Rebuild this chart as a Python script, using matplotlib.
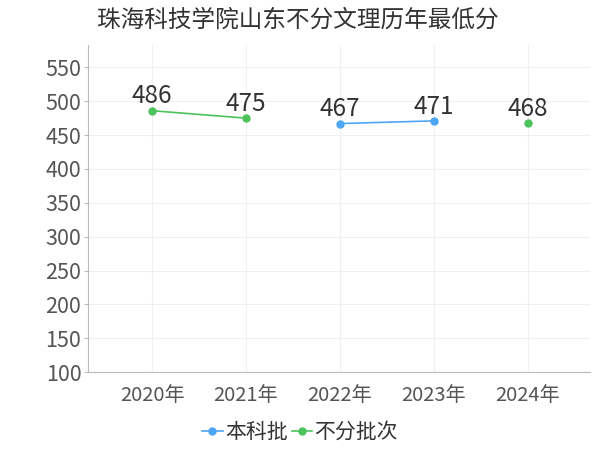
import matplotlib
matplotlib.use('Agg')
import matplotlib.pyplot as plt
import numpy as np

plt.rcParams['font.family'] = ['Noto Sans CJK SC', 'DejaVu Sans']

title = '珠海科技学院山东不分文理历年最低分'
years = ['2020年', '2021年', '2022年', '2023年', '2024年']
benke = [np.nan, np.nan, 467, 471, np.nan]      # 本科批
bufen = [486, 475, np.nan, np.nan, 468]         # 不分批次
yticks = [100, 150, 200, 250, 300, 350, 400, 450, 500, 550]

blue = '#4da6f5'
green = '#4cc25b'

fig = plt.figure(figsize=(6, 4.5), dpi=100)
ax = fig.add_axes([0.147, 0.173, 0.836, 0.727])

x = np.arange(len(years))
ax.plot(x, benke, color=blue, lw=1.2, marker='o', ms=5, label='本科批', zorder=3)
ax.plot(x, bufen, color=green, lw=1.2, marker='o', ms=5, label='不分批次', zorder=3)

for xs, ys in [(x, benke), (x, bufen)]:
    for xi, yi in zip(xs, ys):
        if not np.isnan(yi):
            ax.text(xi, yi + 2, str(int(yi)), ha='center', va='bottom',
                    fontsize=17.5, color='#333333')

ax.set_xlim(-0.68, 4.66)
ax.set_ylim(100, 583)
ax.set_xticks(x)
ax.set_xticklabels(years)
ax.set_yticks(yticks)
ax.tick_params(axis='x', labelsize=14.5, colors='#555555', length=0, pad=9)
ax.tick_params(axis='y', labelsize=15.5, colors='#555555', length=3, color='#bbbbbb', pad=2)
ax.grid(True, color='#f0f0f0', lw=0.8)
ax.set_axisbelow(True)
for s in ['top', 'right']:
    ax.spines[s].set_visible(False)
for s in ['left', 'bottom']:
    ax.spines[s].set_color('#bbbbbb')

fig.text(0.162, 0.955, title, fontsize=17, color='#333333', ha='left', va='center')

fig.legend(loc='center', bbox_to_anchor=(0.5, 0.04), ncol=2, frameon=False,
           fontsize=15, handlelength=1.0, handletextpad=0.1, columnspacing=0.2,
           labelcolor='#333333')

fig.savefig('out.png', dpi=100)
